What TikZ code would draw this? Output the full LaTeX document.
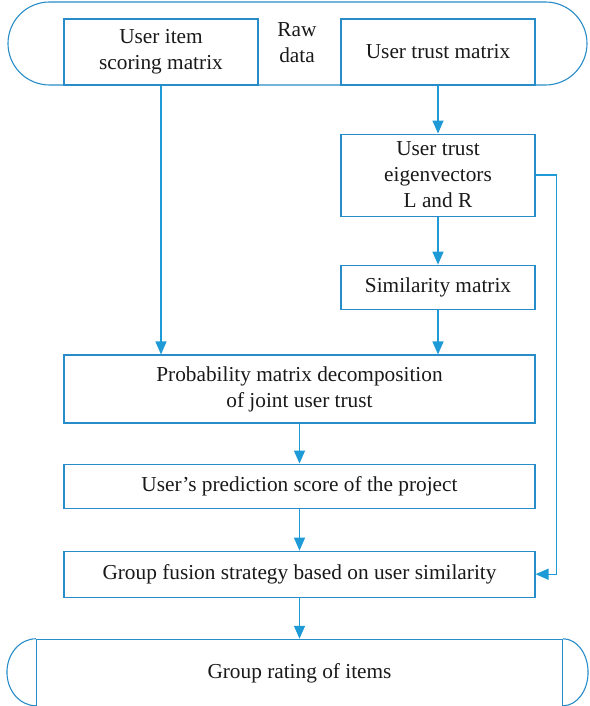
\documentclass[tikz,border=0pt]{standalone}
\usepackage{fontspec}
\setmainfont{Liberation Serif}
\usepackage{tikz}
\usetikzlibrary{positioning, arrows.meta, shapes.misc}

\definecolor{boxblue}{RGB}{40,140,200}
\definecolor{flowblue}{RGB}{30,155,215}

\begin{document}
\begin{tikzpicture}[x=1pt, y=1pt,
    every node/.style={font=\fontsize{21.3}{26}\selectfont, text=black!90},
    stepbox/.style={draw=boxblue, line width=1.1pt, align=center, inner sep=0pt, minimum width=194pt},
    widebox/.style={stepbox, minimum width=471pt},
    flow/.style={draw=flowblue, line width=1.4pt, -{Triangle[length=13pt, width=11pt]}}]
    \useasboundingbox (0,0) rectangle (589,-706);

    % raw data frame
    \node[draw=boxblue, line width=1.1pt, rounded rectangle, minimum width=579pt, minimum height=83pt, inner sep=0pt] (rawframe) at (297.5,-43.5) {};
    \node (rawtxt) at (297,-43) [align=center] {Raw\\data};
    \node[stepbox, minimum height=66pt] (uism) at (161,-52) {User item\\scoring matrix};
    \node[stepbox, minimum height=66pt] (utm) at (438,-52) {User trust matrix};

    \node[stepbox, minimum height=82pt] (utev) [below=48pt of utm] {User trust\\eigenvectors\\L and R};
    \node[stepbox, minimum height=44pt] (sim) [below=48pt of utev] {Similarity matrix};

    \node[widebox, minimum height=68pt] (pmd) at (299.5,-389) {Probability matrix decomposition\\of joint user trust};
    \node[widebox, minimum height=44pt] (ups) [below=40pt of pmd] {User’s prediction score of the project};
    \node[widebox, minimum height=46pt] (gfs) [below=42pt of ups] {Group fusion strategy based on user similarity};

    % result
    \node[stepbox, minimum width=526pt, minimum height=67pt] (grp) [below=41pt of gfs] {Group rating of items};
    \draw[draw=boxblue, line width=1.1pt] (grp.north west) arc[start angle=90, end angle=270, x radius=29pt, y radius=33.5pt];
    \draw[draw=boxblue, line width=1.1pt] (grp.north east) arc[start angle=90, end angle=-90, x radius=25pt, y radius=33.5pt];

    \draw[flow] (uism.south) -- (uism.south |- pmd.north);
    \draw[flow] (utm) -- (utev);
    \draw[flow] (utev) -- (sim);
    \draw[flow] (sim) -- (sim.south |- pmd.north);
    \draw[flow] (pmd) -- (ups);
    \draw[flow] (ups) -- (gfs);
    \draw[flow] (gfs) -- (grp);
    \draw[flow] (utev.east) -- ++(21pt,0) |- (gfs.east);
\end{tikzpicture}
\end{document}
